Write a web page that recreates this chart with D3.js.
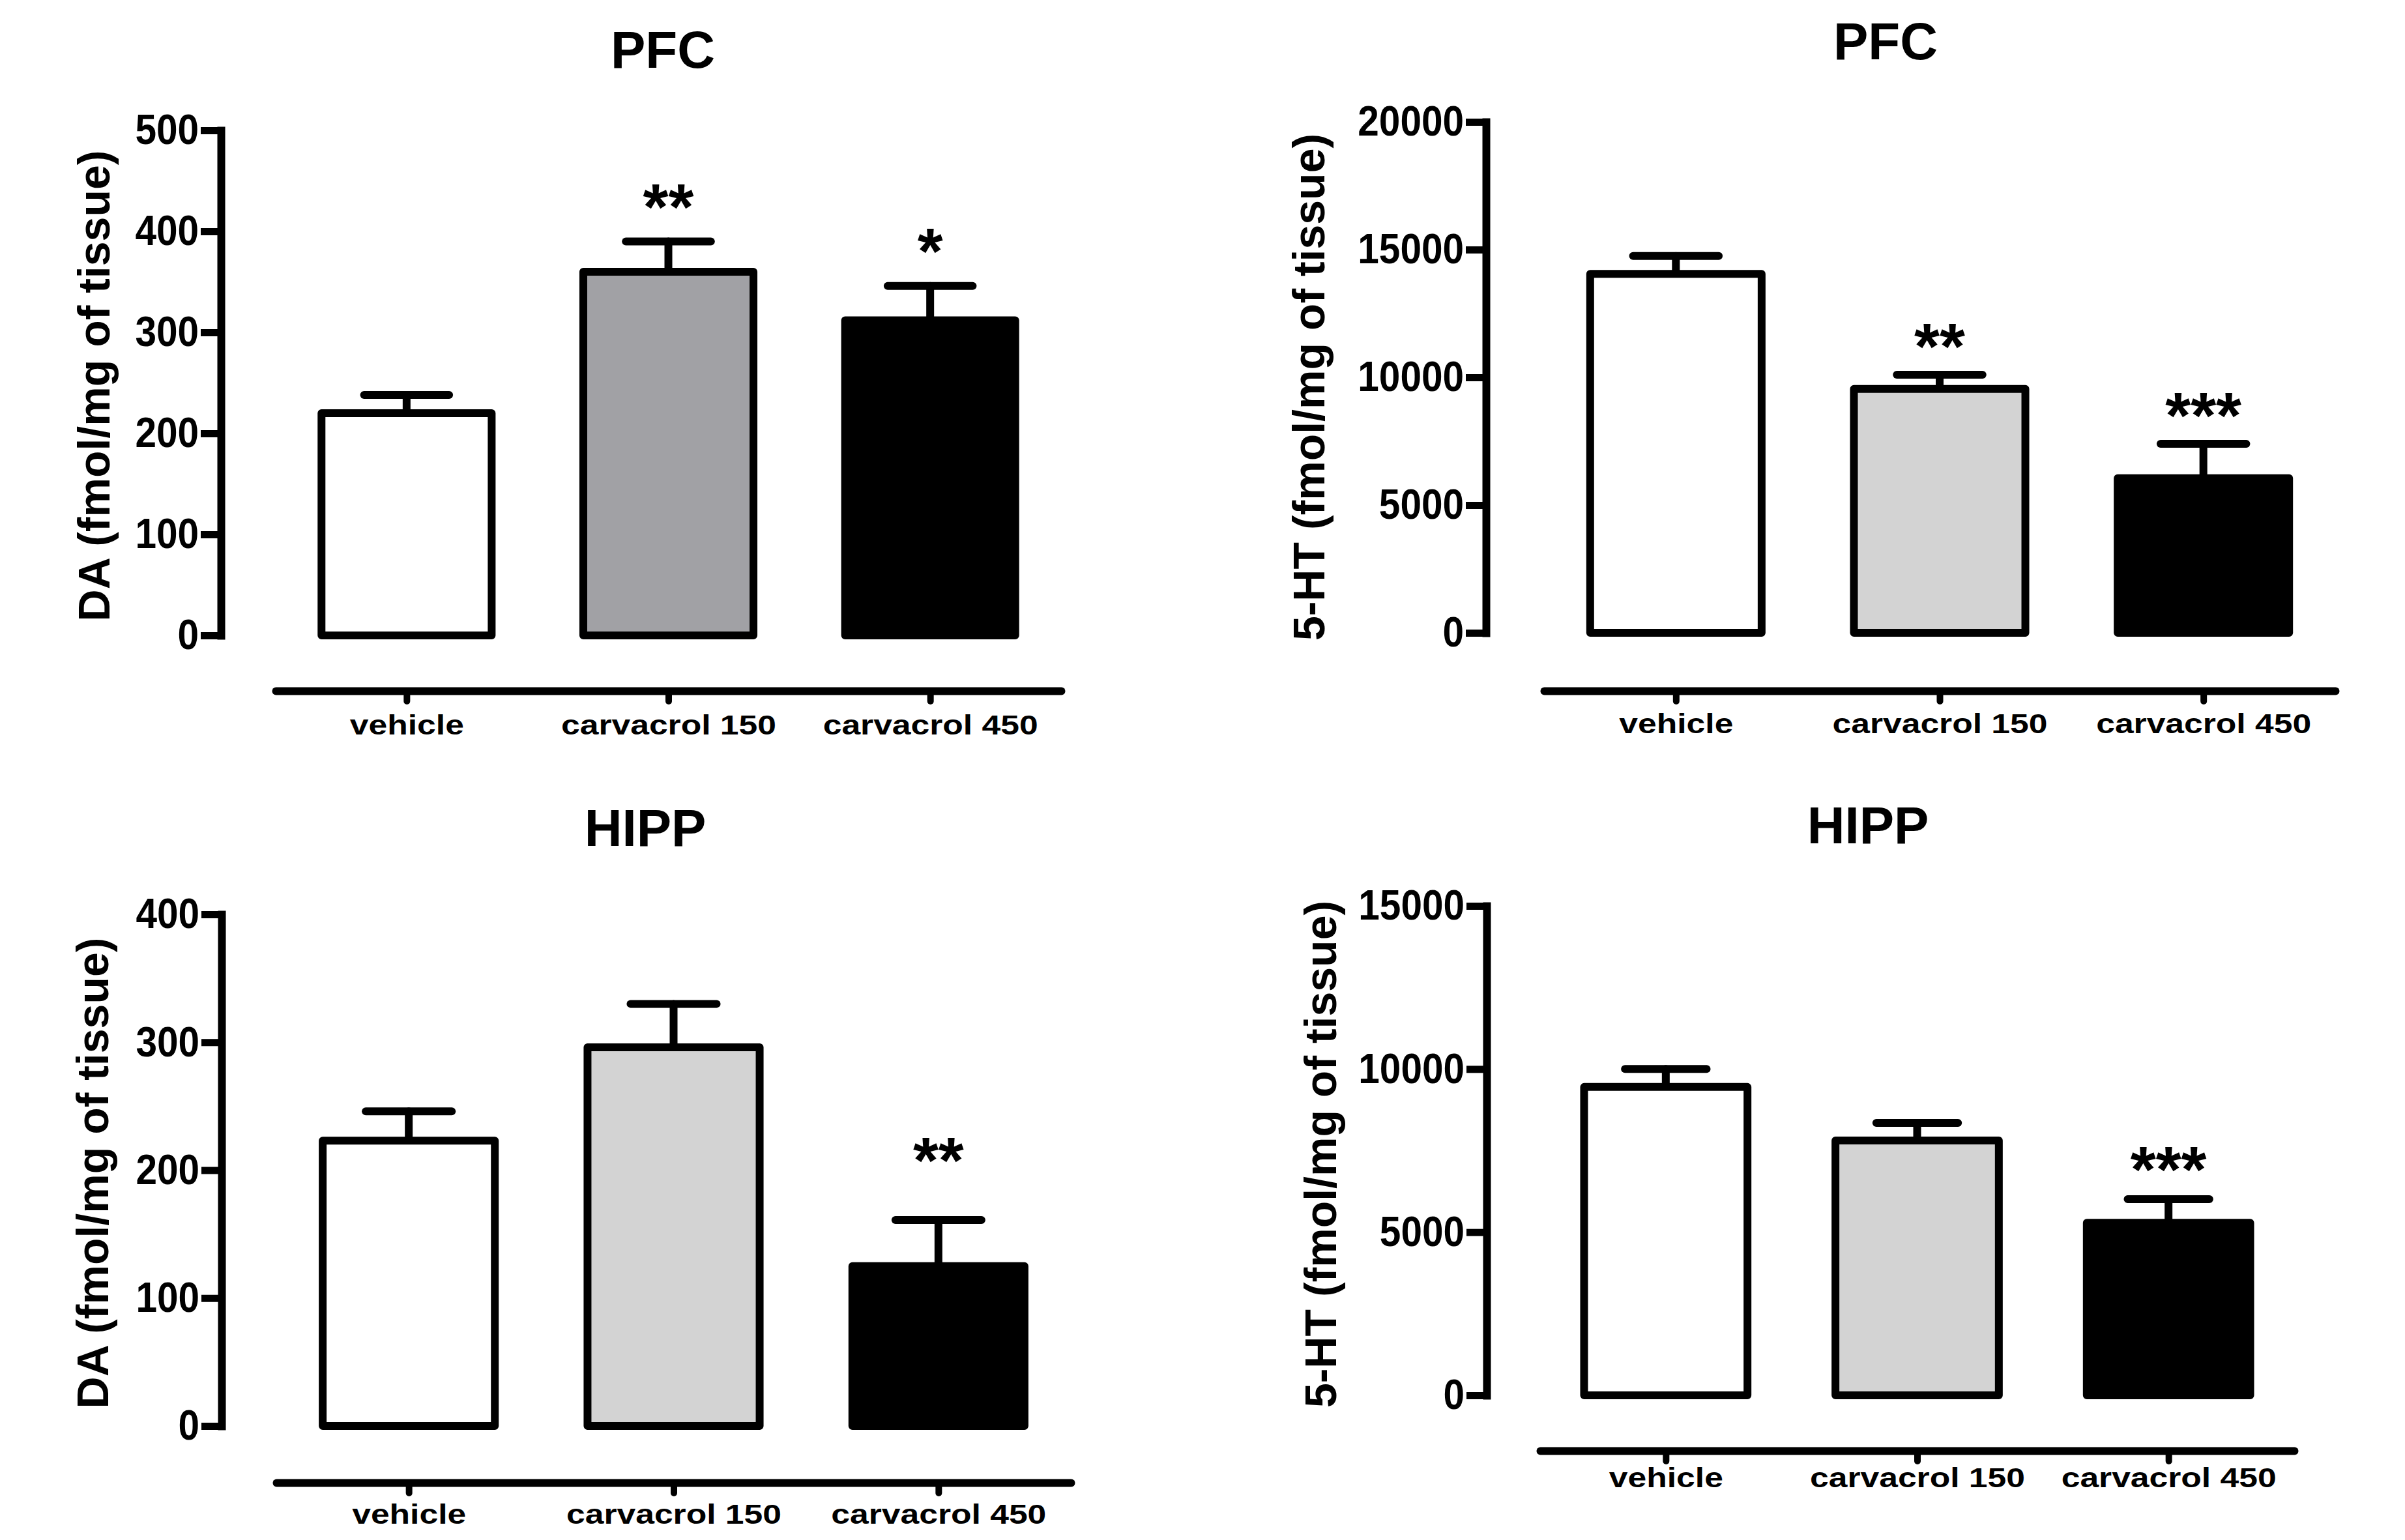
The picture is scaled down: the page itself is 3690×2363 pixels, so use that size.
<!DOCTYPE html>
<html lang="en">
<head>
<meta charset="utf-8">
<title>DA and 5-HT, PFC and HIPP</title>
<script src="https://d3js.org/d3.v7.min.js"></script>
<style>
  body { margin: 0; background: #fff; }
  svg { display: block; background: #fff; }
  text { font-family: "Liberation Sans", Arial, sans-serif; font-weight: bold; fill: #000; }
  .y-axis .domain { stroke: #000; stroke-width: 12px; stroke-linecap: square; }
  .y-axis .tick line { stroke: #000; stroke-width: 11px; }
  .y-axis .tick text { font-size: 65px; }
  .x-axis .domain { stroke: #000; stroke-width: 12px; stroke-linecap: round; }
  .x-axis .tick line { stroke: #000; stroke-width: 10px; stroke-linecap: round; }
  .x-axis .tick text { font-size: 43px; }
  .bar { stroke: #000; stroke-width: 12px; stroke-linejoin: round; }
  .err { stroke: #000; stroke-width: 12px; stroke-linecap: round; fill: none; }
  .title { font-size: 80px; }
  .ylabel { font-size: 68px; }
  .star { font-size: 100px; }
</style>
</head>
<body>
<script>

// ---- data ----
const categories = ["vehicle", "carvacrol 150", "carvacrol 450"];

// DA, prefrontal cortex
const daPfcMean  = [220, 360, 312];
const daPfcSem   = [18, 30, 34];
const daPfcStars = ["", "**", "*"];
const daPfcTicks = [0, 100, 200, 300, 400, 500];

// 5-HT, prefrontal cortex
const htPfcMean  = [14050, 9550, 6050];
const htPfcSem   = [700, 550, 1350];
const htPfcStars = ["", "**", "***"];
const htPfcTicks = [0, 5000, 10000, 15000, 20000];

// DA, hippocampus
const daHippMean  = [223, 296, 125];
const daHippSem   = [23, 34, 36];
const daHippStars = ["", "", "**"];
const daHippTicks = [0, 100, 200, 300, 400];

// 5-HT, hippocampus
const htHippMean  = [9450, 7810, 5290];
const htHippSem   = [550, 540, 720];
const htHippStars = ["", "", "***"];
const htHippTicks = [0, 5000, 10000, 15000];

const fillsDark  = ["#ffffff", "#a1a1a5", "#000000"];
const fillsLight = ["#ffffff", "#d3d3d3", "#000000"];

const svg = d3.select("body").append("svg")
    .attr("width", 3690)
    .attr("height", 2363);

// squeeze or stretch a text node horizontally by factor k
function stretch(sel, k) {
    sel.each(function () {
        const w = this.getComputedTextLength();
        d3.select(this).attr("textLength", w * k).attr("lengthAdjust", "spacingAndGlyphs");
    });
}

// one panel = y axis, bars with upper error bar, detached category axis
function drawPanel(p) {
    const y = d3.scaleLinear()
        .domain([0, d3.max(p.ticks)])
        .range([p.yBottom, p.yTop]);

    const x = d3.scalePoint()
        .domain(categories)
        .range([p.xStart, p.xEnd])
        .padding(0.5);

    const bw = x.step() * 0.65;
    const g = svg.append("g");

    const rows = categories.map((c, i) => ({
        cat: c, mean: p.mean[i], sem: p.sem[i], star: p.stars[i], fill: p.fills[i]
    }));

    // error bars first, so the stem sits under the bar outline
    g.selectAll("line.stem").data(rows).join("line")
        .attr("class", "err")
        .attr("x1", d => x(d.cat)).attr("x2", d => x(d.cat))
        .attr("y1", d => y(d.mean)).attr("y2", d => y(d.mean + d.sem));

    g.selectAll("line.cap").data(rows).join("line")
        .attr("class", "err")
        .attr("x1", d => x(d.cat) - bw / 4).attr("x2", d => x(d.cat) + bw / 4)
        .attr("y1", d => y(d.mean + d.sem)).attr("y2", d => y(d.mean + d.sem));

    g.selectAll("rect").data(rows).join("rect")
        .attr("class", "bar")
        .attr("x", d => x(d.cat) - bw / 2)
        .attr("y", d => y(d.mean))
        .attr("width", bw)
        .attr("height", d => y(0) - y(d.mean))
        .attr("fill", d => d.fill);

    g.selectAll("text.star").data(rows.filter(d => d.star)).join("text")
        .attr("class", "star")
        .attr("text-anchor", "middle")
        .attr("x", d => x(d.cat))
        .attr("y", d => y(d.mean + d.sem) - p.starGap)
        .text(d => d.star);

    const ya = g.append("g")
        .attr("class", "y-axis")
        .attr("transform", `translate(${p.axisX},0)`)
        .call(d3.axisLeft(y).tickValues(p.ticks).tickFormat(d3.format("d"))
            .tickSize(31).tickSizeOuter(0).tickPadding(3));
    // tick numbers in the original are tall and narrow
    stretch(ya.selectAll(".tick text"), 0.9);

    const xa = g.append("g")
        .attr("class", "x-axis")
        .attr("transform", `translate(0,${p.xAxisY})`)
        .call(d3.axisBottom(x).tickSize(16).tickSizeOuter(0));
    xa.select(".domain").attr("fill", "none");
    // the category labels are set wide
    xa.selectAll(".tick text").attr("y", p.labelY).attr("dy", null);
    stretch(xa.selectAll(".tick text"), 1.2);

    g.append("text")
        .attr("class", "title")
        .attr("text-anchor", "middle")
        .attr("x", p.titleX).attr("y", p.titleY)
        .text(p.title);

    g.append("text")
        .attr("class", "ylabel")
        .attr("text-anchor", "middle")
        .attr("transform", `translate(${p.ylabelX},${p.ylabelY}) rotate(-90)`)
        .text(p.ylabel);
}

drawPanel({
    title: "PFC", ylabel: "DA (fmol/mg of tissue)",
    mean: daPfcMean, sem: daPfcSem, stars: daPfcStars, ticks: daPfcTicks, fills: fillsDark,
    axisX: 339, yTop: 200, yBottom: 975,
    xStart: 423, xEnd: 1628, xAxisY: 1060, labelY: 67,
    titleX: 1017, titleY: 104, ylabelX: 168, ylabelY: 592, starGap: 19
});

drawPanel({
    title: "PFC", ylabel: "5-HT (fmol/mg of tissue)",
    mean: htPfcMean, sem: htPfcSem, stars: htPfcStars, ticks: htPfcTicks, fills: fillsLight,
    axisX: 2280, yTop: 187, yBottom: 971,
    xStart: 2369, xEnd: 3583, xAxisY: 1060, labelY: 65,
    titleX: 2893, titleY: 91, ylabelX: 2032, ylabelY: 594, starGap: 9
});

drawPanel({
    title: "HIPP", ylabel: "DA (fmol/mg of tissue)",
    mean: daHippMean, sem: daHippSem, stars: daHippStars, ticks: daHippTicks, fills: fillsLight,
    axisX: 340, yTop: 1403, yBottom: 2188,
    xStart: 424, xEnd: 1643, xAxisY: 2275, labelY: 63,
    titleX: 990, titleY: 1298, ylabelX: 166, ylabelY: 1800, starGap: 57
});

drawPanel({
    title: "HIPP", ylabel: "5-HT (fmol/mg of tissue)",
    mean: htHippMean, sem: htHippSem, stars: htHippStars, ticks: htHippTicks, fills: fillsLight,
    axisX: 2281, yTop: 1390, yBottom: 2141,
    xStart: 2363, xEnd: 3520, xAxisY: 2226, labelY: 56,
    titleX: 2866, titleY: 1294, ylabelX: 2050, ylabelY: 1771, starGap: 11
});

</script>
</body>
</html>
